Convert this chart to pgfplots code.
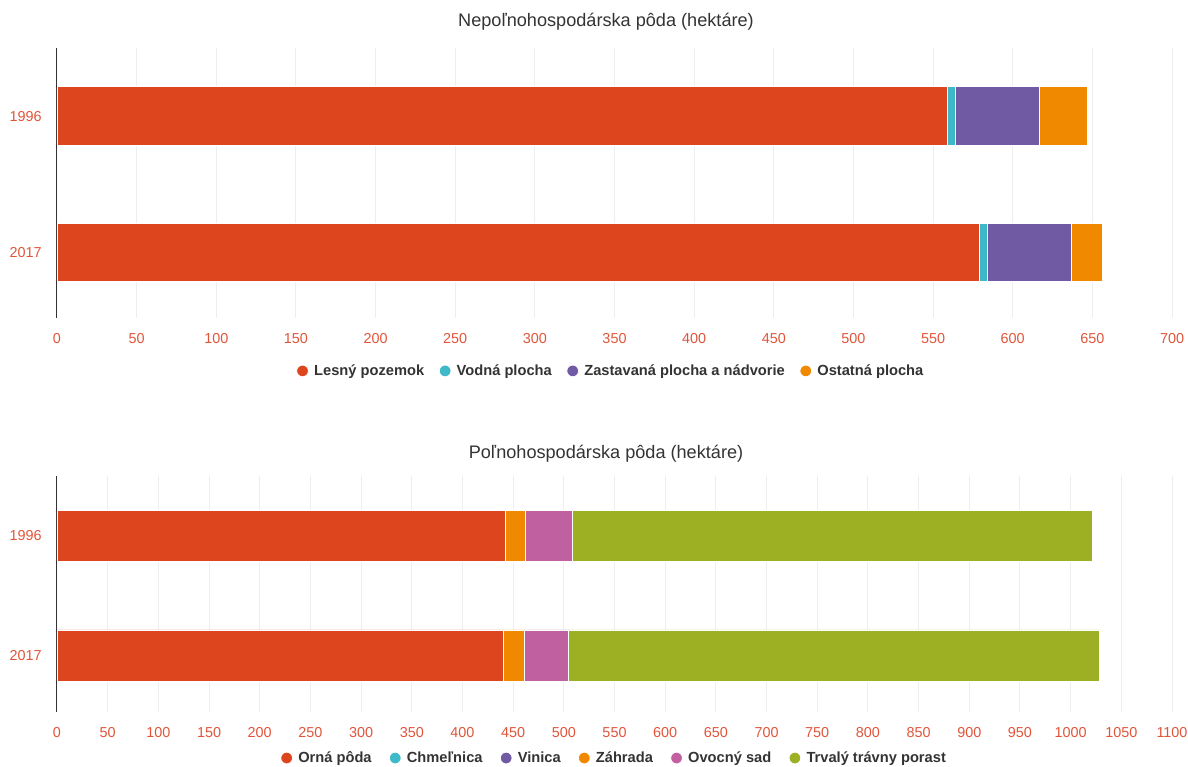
\documentclass[border=0pt]{standalone}
\usepackage{pgfplots}
\pgfplotsset{compat=1.18}
\usepackage{fontspec}
\setmainfont{Liberation Sans}

\definecolor{cLes}{HTML}{DC451E}
\definecolor{cVod}{HTML}{3DB9C9}
\definecolor{cZas}{HTML}{6F5AA3}
\definecolor{cOst}{HTML}{F08800}
\definecolor{cOvo}{HTML}{C160A0}
\definecolor{cTrv}{HTML}{9DB024}
\definecolor{tickc}{HTML}{E0553A}
\definecolor{gridc}{HTML}{EEEEEE}
\definecolor{titlec}{HTML}{333333}

\pgfplotsset{
  landbar/.style={
    xbar stacked,
    scale only axis,
    width=836.25pt,
    bar width=0.43,
    y dir=reverse,
    ytick={0,1},
    yticklabels={1996,2017},
    xmin=0,
    xmajorgrids,
    major grid style={gridc, line width=0.75pt},
    axis x line*=bottom,
    axis y line*=left,
    x axis line style={draw=none},
    y axis line style={draw=black!80, line width=0.75pt},
    major tick length=0pt,
    tick label style={font=\fontsize{10.8}{12}\selectfont, text=tickc},
    /pgf/number format/assume math mode=true,
    /pgf/number format/1000 sep={},
    xticklabel style={yshift=-8pt},
    yticklabel style={xshift=-8pt},
    every axis plot/.append style={draw=white, line width=0.6pt, forget plot},
    legend columns=-1,
    legend cell align=left,
    legend style={draw=none, fill=none, font=\bfseries\fontsize{11}{12}\selectfont,
      text=titlec, anchor=center,
      /tikz/every odd column/.append style={column sep=2pt},
      /tikz/every even column/.append style={column sep=9pt}},
    legend image code/.code={\fill[##1] (0.3em,0pt) circle (4.4pt);},
  },
}

\begin{document}
\begin{tikzpicture}
\path[use as bounding box] (0,0) rectangle (891pt,-575.25pt);

\node[font=\fontsize{13.6}{15}\selectfont, text=titlec] at (454.5pt,-16pt) {Nepoľnohospodárska pôda (hektáre)};
\begin{axis}[landbar,
  at={(42.75pt,-36pt)}, anchor=north west,
  height=202.5pt,
  ymin=-0.50, ymax=1.48,
  xmax=700, xtick={0,50,...,700},
  legend style={at={(axis description cs:0.497,-0.196)}},
]
\addplot[fill=cLes] coordinates {(559,0) (579,1)};
\addplot[fill=cVod] coordinates {(5,0) (5,1)};
\addplot[fill=cZas] coordinates {(53,0) (53,1)};
\addplot[fill=cOst] coordinates {(30,0) (19,1)};
\addlegendimage{fill=cLes}\addlegendentry{Lesný pozemok}
\addlegendimage{fill=cVod}\addlegendentry{Vodná plocha}
\addlegendimage{fill=cZas}\addlegendentry{Zastavaná plocha a nádvorie}
\addlegendimage{fill=cOst}\addlegendentry{Ostatná plocha}
\end{axis}

\node[font=\fontsize{13.6}{15}\selectfont, text=titlec] at (454.5pt,-340pt) {Poľnohospodárska pôda (hektáre)};
\begin{axis}[landbar,
  at={(42.75pt,-357pt)}, anchor=north west,
  height=177pt,
  ymin=-0.50, ymax=1.47,
  xmax=1100, xtick={0,50,...,1100},
  legend style={at={(axis description cs:0.5,-0.195)},
    /tikz/every even column/.append style={column sep=11pt}},
]
\addplot[fill=cLes] coordinates {(442,0) (440,1)};
\addplot[fill=cOst] coordinates {(20,0) (21,1)};
\addplot[fill=cOvo] coordinates {(46,0) (44,1)};
\addplot[fill=cTrv] coordinates {(513,0) (523,1)};
\addlegendimage{fill=cLes}\addlegendentry{Orná pôda}
\addlegendimage{fill=cVod}\addlegendentry{Chmeľnica}
\addlegendimage{fill=cZas}\addlegendentry{Vinica}
\addlegendimage{fill=cOst}\addlegendentry{Záhrada}
\addlegendimage{fill=cOvo}\addlegendentry{Ovocný sad}
\addlegendimage{fill=cTrv}\addlegendentry{Trvalý trávny porast}
\end{axis}
\end{tikzpicture}
\end{document}
